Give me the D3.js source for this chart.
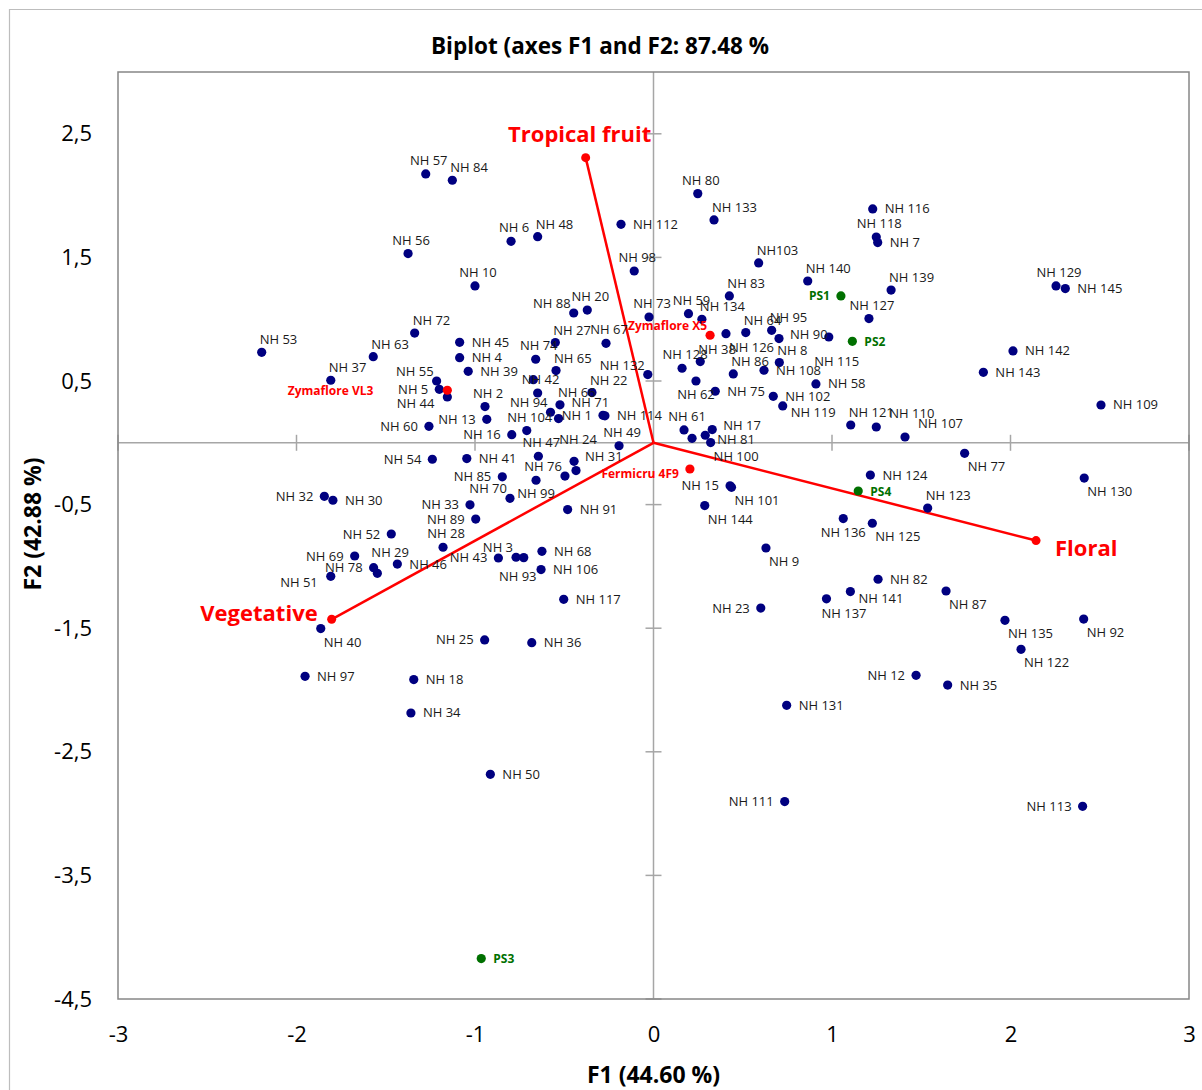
<!DOCTYPE html>
<html>
<head>
<meta charset="utf-8">
<script src="https://cdn.jsdelivr.net/npm/d3@7"></script>
<style>
  body { margin: 0; background: #fff; }
  svg { display: block; }
  text { font-family: "Open Sans", "Noto Sans", sans-serif; }
</style>
</head>
<body>
<svg id="chart" width="1202" height="1090"></svg>
<script>
// ---- data ----
const nhNames = ["NH 57","NH 84","NH 56","NH 10","NH 72","NH 53","NH 63","NH 37","NH 45","NH 4",
  "NH 39","NH 55","NH 5","NH 44","NH 2","NH 13","NH 60","NH 16","NH 104","NH 54",
  "NH 41","NH 85","NH 70","NH 99","NH 76","NH 47","NH 24","NH 31","NH 49","NH 88",
  "NH 20","NH 73","NH 59","NH 134","NH 27","NH 67","NH 74","NH 65","","NH 42",
  "NH 66","NH 94","NH 71","NH 22","NH 1","NH 114","NH 132","NH 128","NH 38","NH 62",
  "NH 75","NH 86","NH 126","NH 64","NH 95","NH 90","NH 115","NH 8","NH 108","NH 58",
  "NH 102","NH 119","NH 121","NH 110","NH 107","NH 61","","NH 17","NH 81","NH 100",
  "NH 80","NH 133","NH 6","NH 48","NH 112","NH 98","NH103","NH 140","NH 83","NH 116",
  "NH 118","NH 7","NH 139","NH 127","NH 129","NH 145","NH 142","NH 143","NH 109","NH 77",
  "NH 124","NH 123","NH 136","NH 125","NH 130","NH 82","NH 141","NH 137","NH 87","NH 135",
  "NH 92","NH 122","NH 12","NH 35","NH 131","NH 15","NH 101","NH 144","NH 9","NH 23",
  "NH 91","NH 3","NH 93","NH 43","NH 68","NH 106","NH 117","NH 36","NH 25","NH 32",
  "NH 30","NH 33","NH 89","NH 52","NH 28","NH 69","NH 78","NH 29","NH 46","NH 51",
  "NH 40","NH 97","NH 18","NH 34","NH 50","NH 111","NH 113"];
const nhF1 = [-1.276,-1.127,-1.375,-1.000,-1.338,-2.195,-1.570,-1.808,-1.086,-1.086,
  -1.038,-1.215,-1.200,-1.155,-0.944,-0.934,-1.258,-0.794,-0.710,-1.239,
  -1.046,-0.847,-0.804,-0.658,-0.496,-0.645,-0.434,-0.445,-0.193,-0.447,
  -0.371,-0.025,0.196,0.271,-0.550,-0.266,-0.660,-0.546,-0.673,-0.649,
  -0.524,-0.577,-0.532,-0.345,-0.283,-0.272,-0.032,0.160,0.262,0.238,
  0.346,0.447,0.406,0.517,0.662,0.703,0.982,0.705,0.619,0.910,
  0.671,0.724,1.105,1.248,1.409,0.171,0.216,0.329,0.290,0.320,
  0.248,0.339,-0.798,-0.649,-0.182,-0.108,0.589,0.864,0.425,1.228,
  1.248,1.256,1.331,1.207,2.255,2.307,2.014,1.848,2.507,1.743,
  1.215,1.536,1.063,1.226,2.413,1.258,1.103,0.969,1.639,1.969,
  2.410,2.059,1.471,1.648,0.746,0.429,0.437,0.287,0.630,0.601,
  -0.481,-0.770,-0.727,-0.869,-0.625,-0.630,-0.503,-0.682,-0.946,-1.844,
  -1.796,-1.028,-0.996,-1.469,-1.179,-1.674,-1.568,-1.547,-1.435,-1.808,
  -1.864,-1.952,-1.343,-1.359,-0.914,0.735,2.404];
const nhF2 = [2.175,2.124,1.531,1.269,0.888,0.732,0.697,0.506,0.813,0.689,
  0.578,0.500,0.433,0.371,0.293,0.190,0.133,0.066,0.099,-0.133,
  -0.128,-0.275,-0.449,-0.303,-0.269,-0.109,-0.225,-0.150,-0.024,1.050,
  1.074,1.018,1.045,0.999,0.811,0.805,0.676,0.584,0.511,0.403,
  0.307,0.247,0.196,0.406,0.222,0.218,0.552,0.603,0.657,0.500,
  0.417,0.557,0.883,0.892,0.910,0.843,0.856,0.649,0.587,0.476,
  0.376,0.298,0.144,0.128,0.047,0.104,0.036,0.107,0.061,0.002,
  2.016,1.803,1.630,1.668,1.768,1.390,1.455,1.309,1.188,1.892,
  1.665,1.620,1.236,1.005,1.269,1.248,0.743,0.570,0.306,-0.085,
  -0.261,-0.528,-0.613,-0.651,-0.285,-1.104,-1.204,-1.262,-1.199,-1.436,
  -1.426,-1.671,-1.881,-1.960,-2.124,-0.348,-0.360,-0.508,-0.851,-1.337,
  -0.540,-0.926,-0.929,-0.932,-0.878,-1.026,-1.266,-1.617,-1.595,-0.433,
  -0.465,-0.502,-0.617,-0.738,-0.845,-0.916,-1.010,-1.056,-0.981,-1.080,
  -1.503,-1.889,-1.916,-2.186,-2.682,-2.903,-2.941];

const psNames = ["PS1","PS2","PS3","PS4"];
const psF1 = [1.050,1.114,-0.965,1.147];
const psF2 = [1.188,0.821,-4.173,-0.390];

const refNames = ["Zymaflore X5","Zymaflore VL3","Fermicru 4F9"];
const refF1 = [0.317,-1.155,0.204];
const refF2 = [0.870,0.425,-0.212];

const varNames = ["Tropical fruit","Floral","Vegetative"];
const varF1 = [-0.380,2.143,-1.803];
const varF2 = [2.307,-0.791,-1.428];

const xTicks = [-3,-2,-1,0,1,2,3];
const yTicks = [2.5,1.5,0.5,-0.5,-1.5,-2.5,-3.5,-4.5];

// label side for each point (like Excel's label position)
const labelSide = {
  "NH 57":"t","NH 84":"tr","NH 56":"t","NH 10":"t","NH 72":"tr","NH 53":"tr","NH 63":"tr","NH 37":"tr",
  "NH 45":"r","NH 4":"r","NH 39":"r","NH 55":"tl","NH 5":"l","NH 44":"bl","NH 2":"t","NH 13":"l",
  "NH 60":"l","NH 16":"l","NH 104":"t","NH 54":"l","NH 41":"r","NH 85":"l","NH 70":"tl","NH 99":"b",
  "NH 76":"tl","NH 47":"t","NH 24":"tt","NH 31":"rh","NH 49":"t","NH 88":"tl","NH 20":"t","NH 73":"t",
  "NH 59":"t","NH 134":"tr","NH 27":"tr","NH 67":"t","NH 74":"t","NH 65":"tr","NH 42":"t","NH 66":"tr",
  "NH 94":"tl","NH 71":"ruu","NH 22":"tr","NH 1":"l","NH 114":"r","NH 132":"tl","NH 128":"t","NH 38":"tr",
  "NH 62":"b","NH 75":"r","NH 86":"tr","NH 126":"br","NH 64":"tr","NH 95":"tr","NH 90":"rh","NH 115":"bb",
  "NH 8":"tr","NH 108":"r","NH 58":"r","NH 102":"r","NH 119":"rb","NH 121":"tr","NH 110":"ru","NH 107":"ru",
  "NH 61":"t","NH 17":"rh","NH 81":"rl","NH 100":"br","NH 80":"t","NH 133":"tr","NH 6":"t","NH 48":"tr",
  "NH 112":"r","NH 98":"t","NH103":"tr","NH 140":"tr","NH 83":"tr","NH 116":"r","NH 118":"t","NH 7":"r",
  "NH 139":"tr","NH 127":"t","NH 129":"t","NH 145":"r","NH 142":"r","NH 143":"r","NH 109":"r","NH 77":"br",
  "NH 124":"r","NH 123":"tr","NH 136":"b","NH 125":"br","NH 130":"br","NH 82":"r","NH 141":"rb","NH 137":"bs",
  "NH 87":"br","NH 135":"br","NH 92":"br","NH 122":"br","NH 12":"l","NH 35":"r","NH 131":"r","NH 15":"l",
  "NH 101":"br","NH 144":"br","NH 9":"br","NH 23":"l","NH 91":"r","NH 3":"tl","NH 93":"bw","NH 43":"l",
  "NH 68":"r","NH 106":"r","NH 117":"r","NH 36":"r","NH 25":"l","NH 32":"l","NH 30":"r","NH 33":"l",
  "NH 89":"l","NH 52":"l","NH 28":"t","NH 69":"l","NH 78":"l","NH 29":"tu","NH 46":"r","NH 51":"bl",
  "NH 40":"br","NH 97":"r","NH 18":"r","NH 34":"r","NH 50":"r","NH 111":"l","NH 113":"l",
  "PS1":"l","PS2":"r","PS3":"r","PS4":"r",
  "Zymaflore X5":"tl","Zymaflore VL3":"lfar","Fermicru 4F9":"lb"
};
// anchor, dx, dy (baseline)
const sides = {
  t: ["middle", 3, -9], tt: ["middle", 2, -27], tr: ["start", -2, -8], tl: ["end", -3, -5],
  tu: ["start", -6, -16], ru: ["start", 13, -9], ruu: ["start", 13, -12], r: ["start", 12, 4.5],
  rb: ["start", 8, 11], rh: ["start", 11, 0], rl: ["start", 12, 9],
  l: ["end", -11, 4.5], lb: ["end", -11, 9], b: ["middle", 0, 18], bb: ["middle", 8, 29],
  bw: ["middle", -6, 23], bs: ["start", -5, 19], br: ["start", 3, 18], bl: ["end", -13, 11],
  lfar: ["end", -74, 5]
};
const varSide = {
  "Tropical fruit": ["middle", -6, -16],
  "Floral": ["start", 19, 15],
  "Vegetative": ["end", -14, 2]
};

// ---- chart ----
const svg = d3.select("#chart");
const W = 1202, H = 1090;
const margin = {top: 72, right: 13, bottom: 91, left: 118};
const width = W - margin.left - margin.right,
      height = H - margin.top - margin.bottom;

svg.append("rect").attr("width", W).attr("height", H).attr("fill", "#fff");
// outer chart frame (only top/left visible)
svg.append("path").attr("d", "M9.5," + H + "V9.5H" + W)
  .attr("fill", "none").attr("stroke", "#bdbdbd").attr("stroke-width", 1.2);

svg.append("text")
  .attr("x", 600).attr("y", 54)
  .attr("text-anchor", "middle")
  .style("font-size", "22.5px").style("font-weight", "bold")
  .text("Biplot (axes F1 and F2: 87.48 %");

const g = svg.append("g").attr("transform", "translate(" + margin.left + "," + margin.top + ")");

const x = d3.scaleLinear().domain([-3, 3]).range([0, width]);
const y = d3.scaleLinear().domain([-4.5, 3]).range([height, 0]);

const fmt = d => String(d).replace(".", ",");

// zero lines
g.append("line").attr("x1", 0).attr("x2", width).attr("y1", y(0)).attr("y2", y(0))
  .attr("stroke", "#a6a6a6").attr("stroke-width", 1.5);
g.append("line").attr("x1", x(0)).attr("x2", x(0)).attr("y1", 0).attr("y2", height)
  .attr("stroke", "#a6a6a6").attr("stroke-width", 1.5);
// tick marks crossing the zero lines
g.selectAll(".ytk").data(yTicks).enter().append("line")
  .attr("x1", x(0) - 8).attr("x2", x(0) + 8)
  .attr("y1", d => y(d)).attr("y2", d => y(d))
  .attr("stroke", "#a6a6a6").attr("stroke-width", 1.5);
g.selectAll(".xtk").data(xTicks.filter(d => d !== 0)).enter().append("line")
  .attr("x1", d => x(d)).attr("x2", d => x(d))
  .attr("y1", y(0) - 8).attr("y2", y(0) + 8)
  .attr("stroke", "#a6a6a6").attr("stroke-width", 1.5);

// plot frame
g.append("rect").attr("width", width).attr("height", height)
  .attr("fill", "none").attr("stroke", "#878787").attr("stroke-width", 1.5);

// axes (labels only)
const yAxis = g.append("g")
  .call(d3.axisLeft(y).tickValues(yTicks).tickSize(0).tickPadding(26).tickFormat(fmt));
const xAxis = g.append("g").attr("transform", "translate(0," + height + ")")
  .call(d3.axisBottom(x).tickValues(xTicks).tickSize(0).tickPadding(27).tickFormat(fmt));
[yAxis, xAxis].forEach(a => {
  a.select(".domain").remove();
  a.selectAll("text").style("font-size", "22px").attr("fill", "#000")
    .style("font-family", '"Open Sans", sans-serif');
});

// axis titles
svg.append("text")
  .attr("x", margin.left + x(0)).attr("y", 1083)
  .attr("text-anchor", "middle")
  .style("font-size", "23px").style("font-weight", "bold")
  .text("F1 (44.60 %)");
svg.append("text")
  .attr("transform", "translate(41,524) rotate(-90)")
  .attr("text-anchor", "middle")
  .style("font-size", "23px").style("font-weight", "bold")
  .text("F2 (42.88 %)");

// variable vectors
const vars = varNames.map((n, i) => ({name: n, f1: varF1[i], f2: varF2[i]}));
g.selectAll(".vec").data(vars).enter().append("line")
  .attr("x1", x(0)).attr("y1", y(0))
  .attr("x2", d => x(d.f1)).attr("y2", d => y(d.f2))
  .attr("stroke", "#ff0000").attr("stroke-width", 2.5);
g.selectAll(".vecdot").data(vars).enter().append("circle")
  .attr("cx", d => x(d.f1)).attr("cy", d => y(d.f2)).attr("r", 4.5)
  .attr("fill", "#ff0000");

// observations
const pts = []
  .concat(nhNames.map((n, i) => ({name: n, f1: nhF1[i], f2: nhF2[i], kind: "nh"})))
  .concat(psNames.map((n, i) => ({name: n, f1: psF1[i], f2: psF2[i], kind: "ps"})))
  .concat(refNames.map((n, i) => ({name: n, f1: refF1[i], f2: refF2[i], kind: "ref"})));
const colour = {nh: "#000080", ps: "#007000", ref: "#ff0000"};

g.selectAll(".pt").data(pts).enter().append("circle")
  .attr("cx", d => x(d.f1)).attr("cy", d => y(d.f2))
  .attr("r", 4.6)
  .attr("fill", d => colour[d.kind]);

g.selectAll(".lbl").data(pts.filter(d => d.name)).enter().append("text")
  .attr("x", d => x(d.f1) + sides[labelSide[d.name] || "r"][1])
  .attr("y", d => y(d.f2) + sides[labelSide[d.name] || "r"][2])
  .attr("text-anchor", d => sides[labelSide[d.name] || "r"][0])
  .attr("fill", d => d.kind === "nh" ? "#1a1a1a" : colour[d.kind])
  .style("font-size", d => d.kind === "nh" ? "13px" : "12px")
  .style("font-weight", d => d.kind === "nh" ? "normal" : "bold")
  .text(d => d.name);

g.selectAll(".veclbl").data(vars).enter().append("text")
  .attr("x", d => x(d.f1) + varSide[d.name][1])
  .attr("y", d => y(d.f2) + varSide[d.name][2])
  .attr("text-anchor", d => varSide[d.name][0])
  .attr("fill", "#ff0000")
  .style("font-size", "22px").style("font-weight", "bold")
  .text(d => d.name);
</script>
</body>
</html>
